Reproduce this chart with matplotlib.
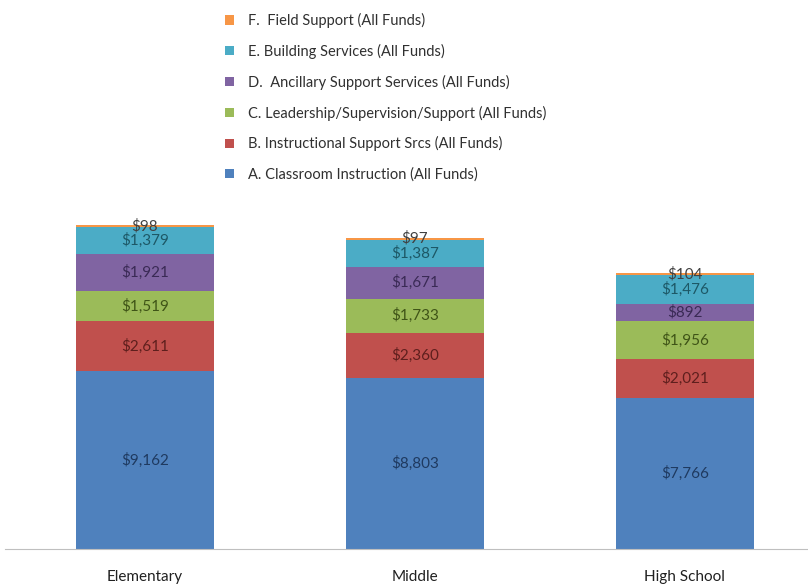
import matplotlib.pyplot as plt
import numpy as np

plt.rcParams['font.family'] = ['Lato', 'DejaVu Sans']

schools = ['Elementary', 'Middle', 'High School']
series = [
    'A. Classroom Instruction (All Funds)',
    'B. Instructional Support Srcs (All Funds)',
    'C. Leadership/Supervision/Support (All Funds)',
    'D.  Ancillary Support Services (All Funds)',
    'E. Building Services (All Funds)',
    'F.  Field Support (All Funds)',
]
classroom = [9162, 8803, 7766]
instr_support = [2611, 2360, 2021]
leadership = [1519, 1733, 1956]
ancillary = [1921, 1671, 892]
building = [1379, 1387, 1476]
field = [98, 97, 104]

colors = ['#4F81BD', '#C0504D', '#9BBB59', '#8064A2', '#4BACC6', '#F79646']
label_colors = ['#1F3A60', '#5E1F1D', '#3F5417', '#3A2A55', '#1D5866', '#404040']

values = [classroom, instr_support, leadership, ancillary, building, field]

fig = plt.figure(figsize=(8.08, 5.85), dpi=100)
ax = fig.add_axes([5 / 808, 36 / 585, 803 / 808, 349 / 585])

x = np.arange(len(schools))
bottom = np.zeros(len(schools))
handles = []
for name, vals, c, lc in zip(series, values, colors, label_colors):
    vals = np.array(vals)
    bars = ax.bar(x, vals, width=0.51, bottom=bottom, color=c, label=name)
    handles.append(bars)
    for xi, b, v in zip(x, bottom, vals):
        ax.text(xi, b + v / 2, f'${v:,}', ha='center', va='center',
                fontsize=11, color=lc)
    bottom += vals

ax.set_xlim(-0.5185, 2.456)
ax.set_ylim(0, 18000)
ax.set_yticks([])
ax.set_xticks(x)
ax.set_xticklabels(schools, fontsize=11, color='#202020')
ax.tick_params(axis='x', length=0, pad=15)
for s in ['top', 'right', 'left']:
    ax.spines[s].set_visible(False)
ax.spines['bottom'].set_color('#BFBFBF')

leg = fig.legend(handles[::-1], series[::-1], loc='upper left',
                 bbox_to_anchor=(212 / 808, 1.0), frameon=False,
                 fontsize=10.5, handlelength=0.6, handleheight=0.6,
                 handletextpad=1.0, labelspacing=1.08, labelcolor='#303030')

fig.savefig('out.png', dpi=100)
